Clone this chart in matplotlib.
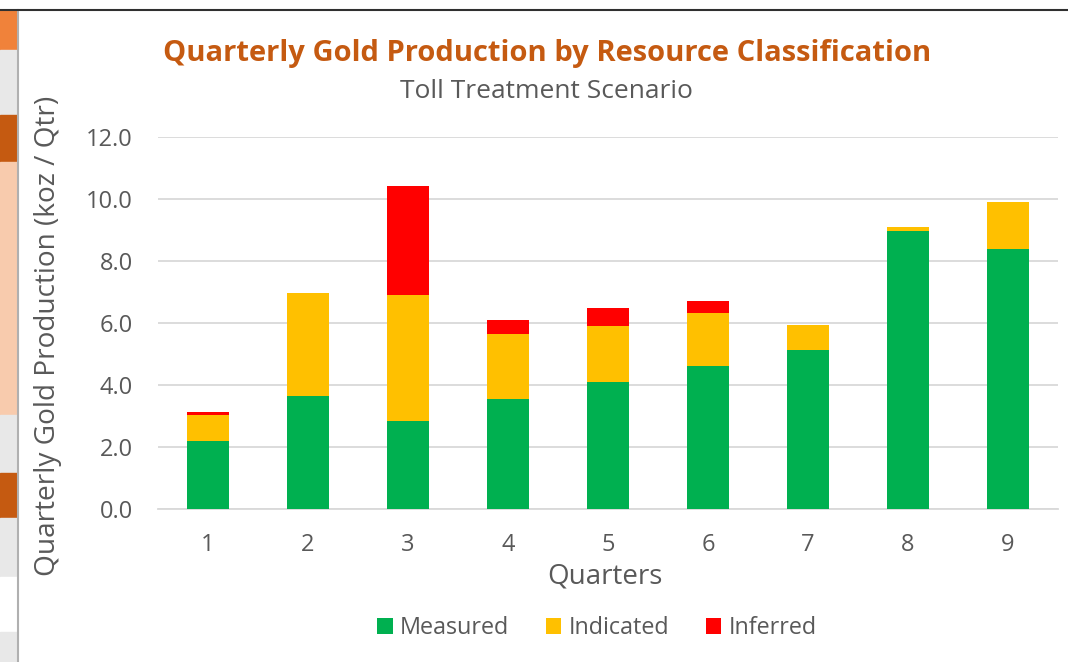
import matplotlib
matplotlib.use("Agg")
import matplotlib.pyplot as plt
from matplotlib.patches import Rectangle
from matplotlib.lines import Line2D
import numpy as np

quarters = ["1", "2", "3", "4", "5", "6", "7", "8", "9"]
measured = [2.20, 3.66, 2.86, 3.56, 4.12, 4.61, 5.13, 8.98, 8.41]
indicated = [0.85, 3.32, 4.05, 2.09, 1.78, 1.73, 0.82, 0.13, 1.51]
inferred = [0.08, 0.00, 3.53, 0.47, 0.60, 0.38, 0.00, 0.00, 0.00]
series_names = ["Measured", "Indicated", "Inferred"]
series_colors = ["#00B050", "#FFC000", "#FF0000"]
yticks = [0, 2, 4, 6, 8, 10, 12]

W, H = 1068, 662
fig = plt.figure(figsize=(W / 100, H / 100), dpi=100)
fig.patch.set_facecolor("white")
FONT = "Open Sans"
GRAY = "#595959"

# background artifacts: left spreadsheet strip and top border
strip = [(10, 50, "#F0823A"), (50, 115, "#E8E8E8"), (115, 162, "#C55A11"),
         (162, 415, "#F8CBAD"), (415, 473, "#E8E8E8"), (473, 518, "#C55A11"),
         (518, 577, "#E8E8E8"), (577, 632, "#FFFFFF"), (632, 662, "#E8E8E8")]
for y0, y1, c in strip:
    fig.patches.append(Rectangle((0, 1 - y1 / H), 17 / W, (y1 - y0) / H,
                                 transform=fig.transFigure, color=c, zorder=0))
fig.lines.append(Line2D([17.5 / W, 17.5 / W], [0, 1 - 10 / H], transform=fig.transFigure,
                        color="#B0B0B0", lw=1.5))
fig.lines.append(Line2D([0, 1], [1 - 9.5 / H, 1 - 9.5 / H], transform=fig.transFigure,
                        color="#303030", lw=1.5))

left, right = 158 / W, 1058 / W
bottom, top = 1 - 509.3 / H, 1 - 137.3 / H
ax = fig.add_axes([left, bottom, right - left, top - bottom])
x = np.arange(len(quarters))
bottoms = np.zeros(len(quarters))
for name, vals, col in zip(series_names, [measured, indicated, inferred], series_colors):
    ax.bar(x, vals, width=0.42, bottom=bottoms, color=col, label=name, zorder=3)
    bottoms += np.array(vals)

ax.set_xlim(-0.5, len(quarters) - 0.5)
ax.set_ylim(0, 12)
ax.set_yticks(yticks)
ax.set_yticklabels([f"{v:.1f}" for v in yticks])
ax.set_xticks(x)
ax.set_xticklabels(quarters)
ax.grid(axis="y", color="#D9D9D9", lw=1.3, zorder=0)
ax.set_axisbelow(True)
for s in ["top", "right", "left"]:
    ax.spines[s].set_visible(False)
ax.spines["bottom"].set_color("#D9D9D9")
ax.spines["bottom"].set_linewidth(1.3)
ax.tick_params(axis="both", length=0, colors=GRAY, labelsize=17)
ax.tick_params(axis="y", pad=18)
ax.tick_params(axis="x", pad=17)
for lab in ax.get_xticklabels() + ax.get_yticklabels():
    lab.set_fontfamily(FONT)

fig.text(605 / W, 1 - 577 / H, "Quarters", ha="center", va="center",
         fontsize=20, color=GRAY, family=FONT)
fig.text(48 / W, 1 - 336 / H, "Quarterly Gold Production (koz / Qtr)", rotation=90,
         ha="center", va="center", fontsize=20.2, color=GRAY, family=FONT)

fig.text(547 / W, 1 - 53 / H, "Quarterly Gold Production by Resource Classification",
         ha="center", va="center", fontsize=21, fontweight="bold", color="#C55A11", family=FONT)
fig.text(546 / W, 1 - 91 / H, "Toll Treatment Scenario", ha="center", va="center",
         fontsize=19, color=GRAY, family=FONT)

leg = fig.legend(loc="center", bbox_to_anchor=(597 / W, 1 - 628 / H), ncol=3, frameon=False,
                 prop={"family": FONT, "size": 16.8}, handlelength=0.65, handleheight=0.65,
                 handletextpad=0.3, columnspacing=1.6, labelcolor=GRAY)

fig.savefig("out.png", dpi=100, facecolor="white")
